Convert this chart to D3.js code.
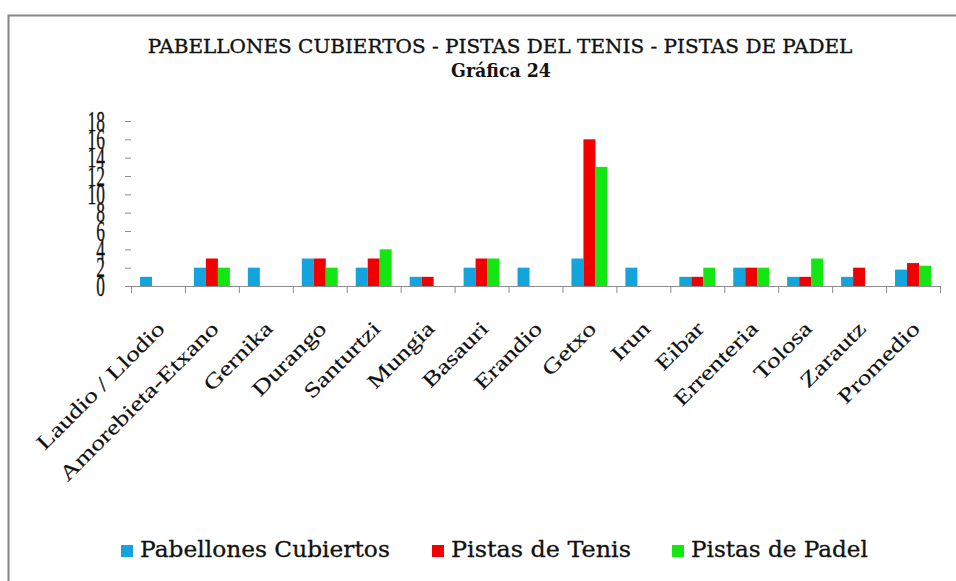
<!DOCTYPE html>
<html>
<head>
<meta charset="utf-8">
<script src="https://cdn.jsdelivr.net/npm/d3@7"></script>
<style>
  body { margin: 0; background: #fff; }
</style>
</head>
<body>
<div id="chart"></div>
<script>
// data
let cities = ["Laudio / Llodio", "Amorebieta-Etxano", "Gernika", "Durango", "Santurtzi",
    "Mungia", "Basauri", "Erandio", "Getxo", "Irun", "Eibar", "Errenteria",
    "Tolosa", "Zarautz", "Promedio"];
let seriesNames = ["Pabellones Cubiertos", "Pistas de Tenis", "Pistas de Padel"];
let pabellones = [1, 2, 2, 3, 2, 1, 2, 2, 3, 2, 1, 2, 1, 1, 1.79];
let tenis      = [0, 3, 0, 3, 3, 1, 3, 0, 16, 0, 1, 2, 1, 2, 2.5];
let padel      = [0, 2, 0, 2, 4, 0, 3, 0, 13, 0, 2, 2, 3, 0, 2.21];
let yTicks = [0, 2, 4, 6, 8, 10, 12, 14, 16, 18];
let colors = ["#14a4dc", "#f00000", "#14e614"];

let width = 956, height = 581;
let axisY = 286, topY = 121, left = 131, right = 940;
let serif = "Liberation Serif";
let wideSerif = "DejaVu Serif";

let svg = d3.select("#chart").append("svg")
    .attr("width", width)
    .attr("height", height)
    .style("font-family", serif);

// stretch a text sideways so it takes the width seen in the reference
function fitWidth(sel, target, cx, cy, anchor) {
    let w = sel.node().getComputedTextLength();
    let sx = target / w;
    sel.attr("x", 0).attr("y", 0)
        .style("text-anchor", anchor)
        .attr("transform", "translate(" + cx + "," + cy + ") scale(" + sx + ",1)");
}

// outer frame of the chart
svg.append("rect")
    .attr("x", 8.5).attr("y", 15.5)
    .attr("width", 1000).attr("height", 700)
    .attr("fill", "none")
    .attr("stroke", "#858585")
    .attr("stroke-width", 2);

let x = d3.scaleBand().domain(cities).range([left, right]).padding(0);
let xs = d3.scaleBand().domain(seriesNames).range([0, x.bandwidth()])
    .paddingInner(0).paddingOuter(0.75);
let y = d3.scaleLinear().domain([0, 18]).range([axisY, topY]);

let table = cities.map(function(c, i) {
    return {city: c, vals: [pabellones[i], tenis[i], padel[i]]};
});

// bars
let groups = svg.selectAll("g.city").data(table).enter()
    .append("g")
    .attr("class", "city")
    .attr("transform", d => "translate(" + x(d.city) + ",0)");

groups.selectAll("rect").data(d => d.vals.map((v, k) => ({v: v, k: k})))
    .enter().append("rect")
    .attr("x", d => xs(seriesNames[d.k]))
    .attr("width", xs.bandwidth())
    .attr("y", d => y(d.v))
    .attr("height", d => axisY - y(d.v))
    .attr("fill", d => colors[d.k]);

// x axis line and ticks
svg.append("line")
    .attr("x1", left).attr("x2", right)
    .attr("y1", axisY + 0.5).attr("y2", axisY + 0.5)
    .attr("stroke", "#8c8c8c").attr("stroke-width", 1.2);

let bounds = cities.map(c => x(c)).concat([right]);
svg.selectAll("line.xt").data(bounds).enter()
    .append("line")
    .attr("class", "xt")
    .attr("x1", d => d + 0.5).attr("x2", d => d + 0.5)
    .attr("y1", axisY).attr("y2", axisY + 7)
    .attr("stroke", "#8c8c8c");

// y ticks
svg.selectAll("line.yt").data(yTicks).enter()
    .append("line")
    .attr("class", "yt")
    .attr("x1", left - 6).attr("x2", left)
    .attr("y1", d => y(d) + 0.5).attr("y2", d => y(d) + 0.5)
    .attr("stroke", "#8c8c8c");

// y labels, tall and narrow like in the picture
svg.selectAll("text.yl").data(yTicks).enter()
    .append("text")
    .attr("class", "yl")
    .attr("transform", d => "translate(105," + y(d) + ") scale(0.6,1)")
    .attr("dy", "0.33em")
    .attr("fill", "#111")
    .attr("stroke", "#111").attr("stroke-width", 0.3)
    .style("text-anchor", "end")
    .style("font-size", "29px")
    .text(d => d);

// category labels at -45 degrees
svg.selectAll("text.xl").data(cities).enter()
    .append("text")
    .attr("class", "xl")
    .attr("transform", d => "translate(" + (x(d) + x.bandwidth() / 2 + 8) + ",330) rotate(-45) scale(1.3,1)")
    .attr("fill", "#111")
    .attr("stroke", "#111").attr("stroke-width", 0.15)
    .style("text-anchor", "end")
    .style("font-size", "21px")
    .text(d => d);

// title
let t1 = svg.append("text")
    .attr("fill", "#111")
    .attr("stroke", "#111").attr("stroke-width", 0.35)
    .style("font-family", wideSerif)
    .style("font-size", "19px")
    .text("PABELLONES CUBIERTOS - PISTAS DEL TENIS - PISTAS DE PADEL");
fitWidth(t1, 705, 500, 53, "middle");

let t2 = svg.append("text")
    .attr("fill", "#111")
    .style("font-family", wideSerif)
    .style("font-size", "19px")
    .style("font-weight", "bold")
    .text("Gráfica 24");
fitWidth(t2, 100, 501, 77, "middle");

// legend
let legendX = [121, 432, 672];
let legendW = [250, 180, 177];
seriesNames.forEach(function(name, i) {
    svg.append("rect")
        .attr("x", legendX[i]).attr("y", 545)
        .attr("width", 12).attr("height", 12)
        .attr("fill", colors[i]);
    let lt = svg.append("text")
        .attr("fill", "#111")
        .attr("stroke", "#111").attr("stroke-width", 0.3)
        .style("font-family", wideSerif)
        .style("font-size", "22px")
        .text(name);
    fitWidth(lt, legendW[i], legendX[i] + 19, 557, "start");
});
</script>
</body>
</html>
